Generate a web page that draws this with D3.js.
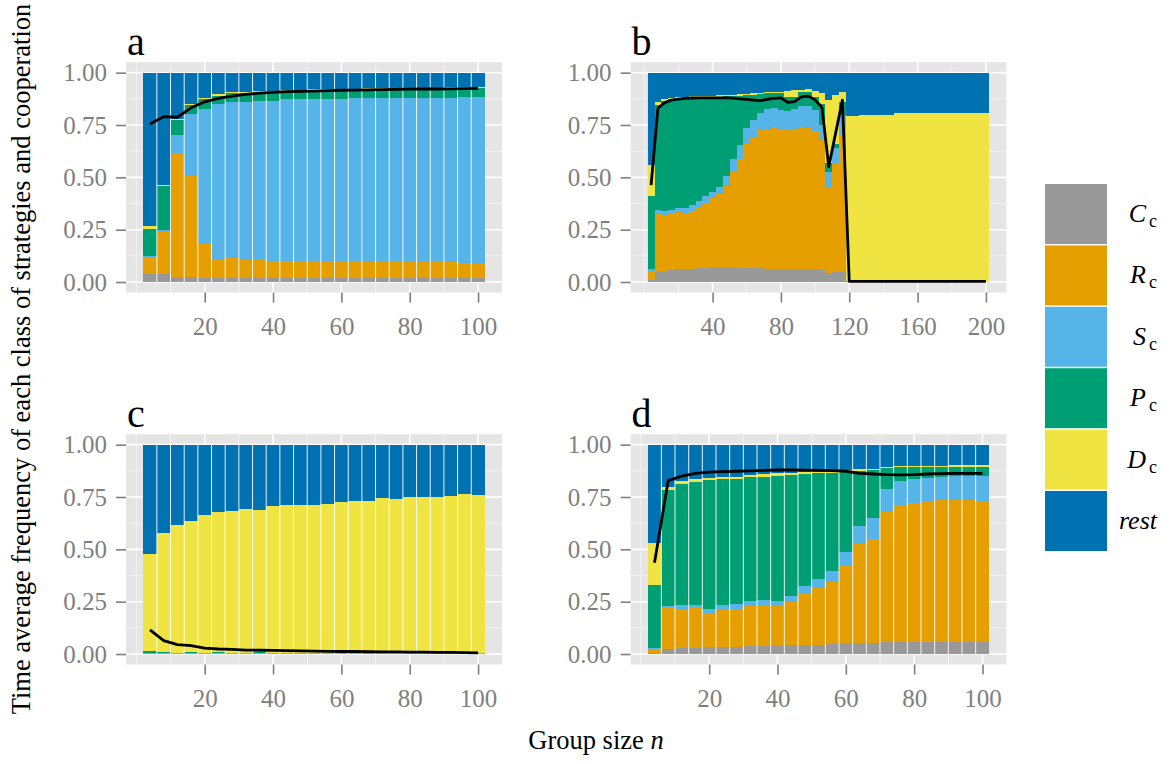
<!DOCTYPE html>
<html lang="en">
<head>
<meta charset="UTF-8">
<title>Strategy classes vs group size</title>
<script src="https://d3js.org/d3.v7.min.js"></script>
<style>
  body { margin: 0; background: #fff; }
  svg { display: block; font-family: "Liberation Serif", "Times New Roman", serif; }
  .tick text { fill: #7f7f7f; font-size: 25px; font-family: "Liberation Serif", "Times New Roman", serif; }
  .tick line { stroke: #7f7f7f; stroke-width: 1.6px; }
</style>
</head>
<body>
<div id="chart"></div>
<script>
const width = 1173, height = 764;

// strategy classes, bottom of the stack first
const classes = ["C", "R", "S", "P", "D", "rest"];
const colours = ["#999999", "#E69F00", "#56B4E9", "#009E73", "#F0E442", "#0072B2"];
const legendLabels = [["C", "c"], ["R", "c"], ["S", "c"], ["P", "c"], ["D", "c"], ["rest", ""]];

// group sizes
const nShort = [4, 8, 12, 16, 20, 24, 28, 32, 36, 40, 44, 48, 52, 56, 60, 64, 68, 72, 76, 80, 84, 88, 92, 96, 100];
const nLong = [4, 8, 12, 16, 20, 24, 28, 32, 36, 40, 44, 48, 52, 56, 60, 64, 68, 72, 76, 80, 84, 88, 92, 96, 100,
  104, 108, 112, 116, 120, 124, 128, 132, 136, 140, 144, 148, 152, 156, 160, 164, 168, 172, 176, 180, 184, 188, 192, 196, 200];

// panel a
const aC = [.04, .04, .022, .022, .019, .019, .019, .019, .019, .019, .019, .019, .019, .019, .019, .019, .019, .019, .019, .019, .019, .019, .019, .019, .019];
const aR = [.081, .20, .591, .486, .167, .091, .097, .088, .088, .081, .081, .081, .078, .081, .081, .078, .078, .078, .078, .078, .078, .078, .075, .072, .072];
const aS = [.003, .008, .089, .295, .64, .74, .742, .753, .756, .765, .774, .774, .777, .774, .774, .784, .784, .784, .784, .784, .784, .784, .787, .793, .793];
const aP = [.128, .211, .072, .043, .05, .039, .043, .043, .042, .043, .038, .04, .04, .042, .044, .039, .04, .041, .041, .042, .043, .043, .044, .042, .042];
const aD = [.016, .004, .003, .003, .005, .011, .005, .006, .007, .006, .005, .005, .006, .005, .004, .004, .004, .004, .005, .005, .005, .005, .005, .005, .005];
const aCoop = [.755, .79, .787, .832, .861, .877, .888, .896, .902, .906, .909, .911, .912, .914, .916, .917, .918, .919, .92, .921, .922, .922, .923, .924, .925];

// panel b
const bC = [.011, .048, .053, .057, .06, .06, .06, .067, .067, .07, .07, .07, .07, .067, .067, .067, .067, .064, .064, .062,
  .062, .062, .062, .06, .06, .057, .043, .048, .048, .001, 0, 0, 0, 0, 0, 0, 0, 0, 0, 0, 0, 0, 0, 0, 0, 0, 0, 0, 0, 0];
const bR = [.043, .277, .269, .268, .274, .268, .281, .293, .309, .331, .354, .389, .457, .519, .592, .621, .659, .668, .678, .67,
  .664, .67, .68, .678, .663, .623, .411, .519, .652, .001, 0, 0, 0, 0, 0, 0, 0, 0, 0, 0, 0, 0, 0, 0, 0, 0, 0, 0, 0, 0];
const bS = [.008, .019, .019, .019, .02, .026, .025, .025, .033, .029, .03, .049, .059, .068, .077, .086, .08, .093, .089, .09,
  .092, .093, .099, .103, .099, .07, .073, .073, .10, .001, 0, 0, 0, 0, 0, 0, 0, 0, 0, 0, 0, 0, 0, 0, 0, 0, 0, 0, 0, 0];
const bP = [.348, .502, .525, .529, .523, .526, .516, .497, .475, .455, .431, .379, .303, .236, .156, .121, .091, .076, .073, .079,
  .067, .06, .067, .067, .06, .10, .041, .02, .06, .002, 0, 0, 0, 0, 0, 0, 0, 0, 0, 0, 0, 0, 0, 0, 0, 0, 0, 0, 0, 0];
const bD = [.149, .012, .008, .008, .008, .006, .005, .007, .006, .005, .007, .006, .006, .008, .008, .006, .007, .006, .005, .006,
  .027, .03, .009, .012, .029, .055, .302, .233, .05, .79, .795, .797, .797, .798, .798, .80, .805, .805, .805, .805,
  .805, .805, .805, .805, .805, .805, .805, .805, .805, .805];
const bCoop = [.463, .83, .857, .869, .874, .877, .879, .88, .88, .88, .88, .88, .878, .875, .872, .869, .866, .873, .877, .88,
  .858, .862, .884, .888, .87, .835, .551, .71, .869, .003, .003, .003, .003, .003, .003, .003, .003, .003, .003, .003,
  .003, .003, .003, .003, .003, .003, .003, .003, .003, .003];

// panel c
const cC = [.001, .001, .001, .001, .001, .001, .001, .001, .001, .001, .001, .001, .001, .001, .001, .001, .001, .001, .001, .001, .001, .001, .001, .001, .001];
const cR = [.001, .002, .003, .004, .003, .004, .003, .003, .004, .003, .003, .003, .003, .003, .003, .003, .003, .003, .003, .003, .003, .003, .003, .003, .003];
const cS = [.001, .001, .001, .001, .001, .001, .001, .001, .001, .001, .001, .001, .001, .001, .001, .001, .001, .001, .001, .001, .001, .001, .001, .001, .001];
const cP = [.012, .004, .002, .004, .002, .002, .002, .002, .002, .002, .002, .002, .002, .002, .002, .002, .002, .002, .002, .002, .002, .002, .002, .002, .002];
const cD = [.463, .571, .608, .625, .657, .67, .676, .686, .68, .70, .705, .705, .705, .71, .719, .724, .724, .738, .733, .743, .743, .743, .748, .757, .753];
const cCoop = [.115, .064, .045, .04, .028, .024, .022, .019, .018, .017, .016, .015, .014, .013, .012, .012, .011, .01, .01, .009, .009, .008, .008, .007, .006];

// panel d
const dC = [.006, .025, .03, .03, .033, .033, .033, .038, .038, .038, .041, .041, .041, .048, .051, .051, .051, .057, .057, .057, .057, .057, .057, .057, .057];
const dR = [.019, .201, .185, .191, .163, .182, .182, .193, .193, .193, .209, .249, .276, .298, .374, .476, .498, .623, .655, .664, .674, .679, .68, .68, .674];
const dS = [.004, .005, .019, .013, .019, .019, .025, .022, .027, .022, .027, .035, .041, .05, .062, .084, .101, .108, .116, .115, .11, .11, .113, .113, .119];
const dP = [.301, .552, .578, .589, .616, .60, .598, .591, .589, .599, .58, .535, .505, .47, .384, .263, .227, .099, .064, .056, .051, .048, .044, .044, .044];
const dD = [.199, .013, .014, .011, .011, .01, .009, .01, .011, .011, .009, .008, .008, .008, .006, .01, .007, .006, .004, .008, .008, .006, .008, .01, .01];
const dCoop = [.436, .828, .85, .863, .869, .871, .873, .875, .877, .879, .879, .878, .877, .876, .873, .863, .86, .857, .856, .857, .86, .862, .863, .863, .863];

// axis breaks
const yTicks = [0, 0.25, 0.5, 0.75, 1];
const yMinor = [0.125, 0.375, 0.625, 0.875];
const xTicksShort = [20, 40, 60, 80, 100];
const xMinorShort = [0, 10, 30, 50, 70, 90];
const xTicksLong = [40, 80, 120, 160, 200];
const xMinorLong = [0, 20, 60, 100, 140, 180];

const panels = [
  { label: "a", n: nShort, vals: [aC, aR, aS, aP, aD], coop: aCoop, dom: [-3, 107], ticks: xTicksShort, minor: xMinorShort, col: 0, row: 0, gaps: true },
  { label: "b", n: nLong, vals: [bC, bR, bS, bP, bD], coop: bCoop, dom: [-8, 212], ticks: xTicksLong, minor: xMinorLong, col: 1, row: 0, gaps: false },
  { label: "c", n: nShort, vals: [cC, cR, cS, cP, cD], coop: cCoop, dom: [-3, 107], ticks: xTicksShort, minor: xMinorShort, col: 0, row: 1, gaps: true },
  { label: "d", n: nShort, vals: [dC, dR, dS, dP, dD], coop: dCoop, dom: [-3, 107], ticks: xTicksShort, minor: xMinorShort, col: 1, row: 1, gaps: true }
];

const colRange = [[126.1, 502], [630.6, 1006.4]];
const rowRange = [[62.2, 292.5], [434.2, 664.5]];

const svg = d3.select("#chart").append("svg")
    .attr("width", width)
    .attr("height", height);

const stack = d3.stack().keys(classes);

panels.forEach(p => {
    const [x0, x1] = colRange[p.col];
    const [y0, y1] = rowRange[p.row];
    const x = d3.scaleLinear().domain(p.dom).range([x0, x1]);
    const y = d3.scaleLinear().domain([-0.05, 1.05]).range([y1, y0]);

    const rows = p.n.map((n, i) => {
        const r = { n: n };
        let sum = 0;
        classes.slice(0, 5).forEach((k, j) => { r[k] = p.vals[j][i]; sum += p.vals[j][i]; });
        r.rest = Math.max(0, 1 - sum);
        return r;
    });

    const g = svg.append("g");

    // panel background and grid
    g.append("rect")
        .attr("x", x0).attr("y", y0)
        .attr("width", x1 - x0).attr("height", y1 - y0)
        .attr("fill", "#E5E5E5");

    g.selectAll(".vminor").data(p.minor).enter().append("line")
        .attr("x1", d => x(d)).attr("x2", d => x(d))
        .attr("y1", y0).attr("y2", y1)
        .attr("stroke", "#F2F2F2").attr("stroke-width", 1);
    g.selectAll(".hminor").data(yMinor).enter().append("line")
        .attr("x1", x0).attr("x2", x1)
        .attr("y1", d => y(d)).attr("y2", d => y(d))
        .attr("stroke", "#F2F2F2").attr("stroke-width", 1);
    g.selectAll(".vmajor").data(p.ticks).enter().append("line")
        .attr("x1", d => x(d)).attr("x2", d => x(d))
        .attr("y1", y0).attr("y2", y1)
        .attr("stroke", "#fff").attr("stroke-width", 1.6);
    g.selectAll(".hmajor").data(yTicks).enter().append("line")
        .attr("x1", x0).attr("x2", x1)
        .attr("y1", d => y(d)).attr("y2", d => y(d))
        .attr("stroke", "#fff").attr("stroke-width", 1.6);

    // stacked bars
    const series = stack(rows);
    g.append("g").selectAll("g")
        .data(series)
        .enter().append("g")
        .attr("fill", (d, i) => colours[i])
        .selectAll("rect")
        .data(d => d)
        .enter().append("rect")
        .attr("shape-rendering", "crispEdges")
        .attr("x", d => x(d.data.n - 2))
        .attr("width", d => x(d.data.n + 2) - x(d.data.n - 2))
        .attr("y", d => y(d[1]))
        .attr("height", d => Math.max(0, y(d[0]) - y(d[1])));

    // thin separations between the bars
    if (p.gaps) {
        g.selectAll(".sep").data(p.n.slice(0, -1)).enter().append("line")
            .attr("x1", d => x(d + 2)).attr("x2", d => x(d + 2))
            .attr("y1", y(0)).attr("y2", y(1))
            .attr("stroke", "#fff").attr("stroke-width", 0.9);
    }

    // cooperation level
    const line = d3.line()
        .x((d, i) => x(p.n[i]))
        .y(d => y(d));
    g.append("path")
        .datum(p.coop)
        .attr("d", line)
        .attr("fill", "none")
        .attr("stroke", "#000")
        .attr("stroke-width", 2.8)
        .attr("stroke-linejoin", "round");

    // axes
    const ax = g.append("g")
        .attr("transform", `translate(0,${y1})`)
        .call(d3.axisBottom(x).tickValues(p.ticks).tickSize(10).tickPadding(15));
    ax.select(".domain").remove();
    ax.attr("font-family", null);

    const ay = g.append("g")
        .attr("transform", `translate(${x0},0)`)
        .call(d3.axisLeft(y).tickValues(yTicks).tickFormat(d3.format(".2f")).tickSize(10).tickPadding(9));
    ay.select(".domain").remove();
    ay.attr("font-family", null);

    // panel letter
    g.append("text")
        .attr("x", x0 + 1)
        .attr("y", y0 - 7)
        .attr("font-size", 40)
        .attr("fill", "#000")
        .text(p.label);
});

// axis titles
svg.append("text")
    .attr("transform", "translate(30,359) rotate(-90)")
    .attr("text-anchor", "middle")
    .attr("font-size", 26.5)
    .text("Time average frequency of each class of strategies and cooperation");

const xt = svg.append("text")
    .attr("x", 596)
    .attr("y", 749)
    .attr("text-anchor", "middle")
    .attr("font-size", 26.5);
xt.append("tspan").text("Group size ");
xt.append("tspan").attr("font-style", "italic").text("n");

// legend
const legend = svg.append("g").attr("transform", "translate(1045,184)");
const keyH = 60, keyStep = 61.4;
legend.selectAll("rect")
    .data(classes)
    .enter().append("rect")
    .attr("x", 0)
    .attr("y", (d, i) => i * keyStep)
    .attr("width", 62)
    .attr("height", keyH)
    .attr("fill", (d, i) => colours[i]);

const lab = legend.selectAll(".lab")
    .data(legendLabels)
    .enter().append("text")
    .attr("class", "lab")
    .attr("x", 112)
    .attr("y", (d, i) => i * keyStep + keyH / 2 + 8)
    .attr("text-anchor", "end")
    .attr("font-size", 26);
lab.append("tspan")
    .attr("font-style", "italic")
    .text(d => d[0]);
lab.append("tspan")
    .attr("font-size", 18)
    .attr("dy", 5)
    .attr("dx", 3)
    .text(d => d[1]);
</script>
</body>
</html>
